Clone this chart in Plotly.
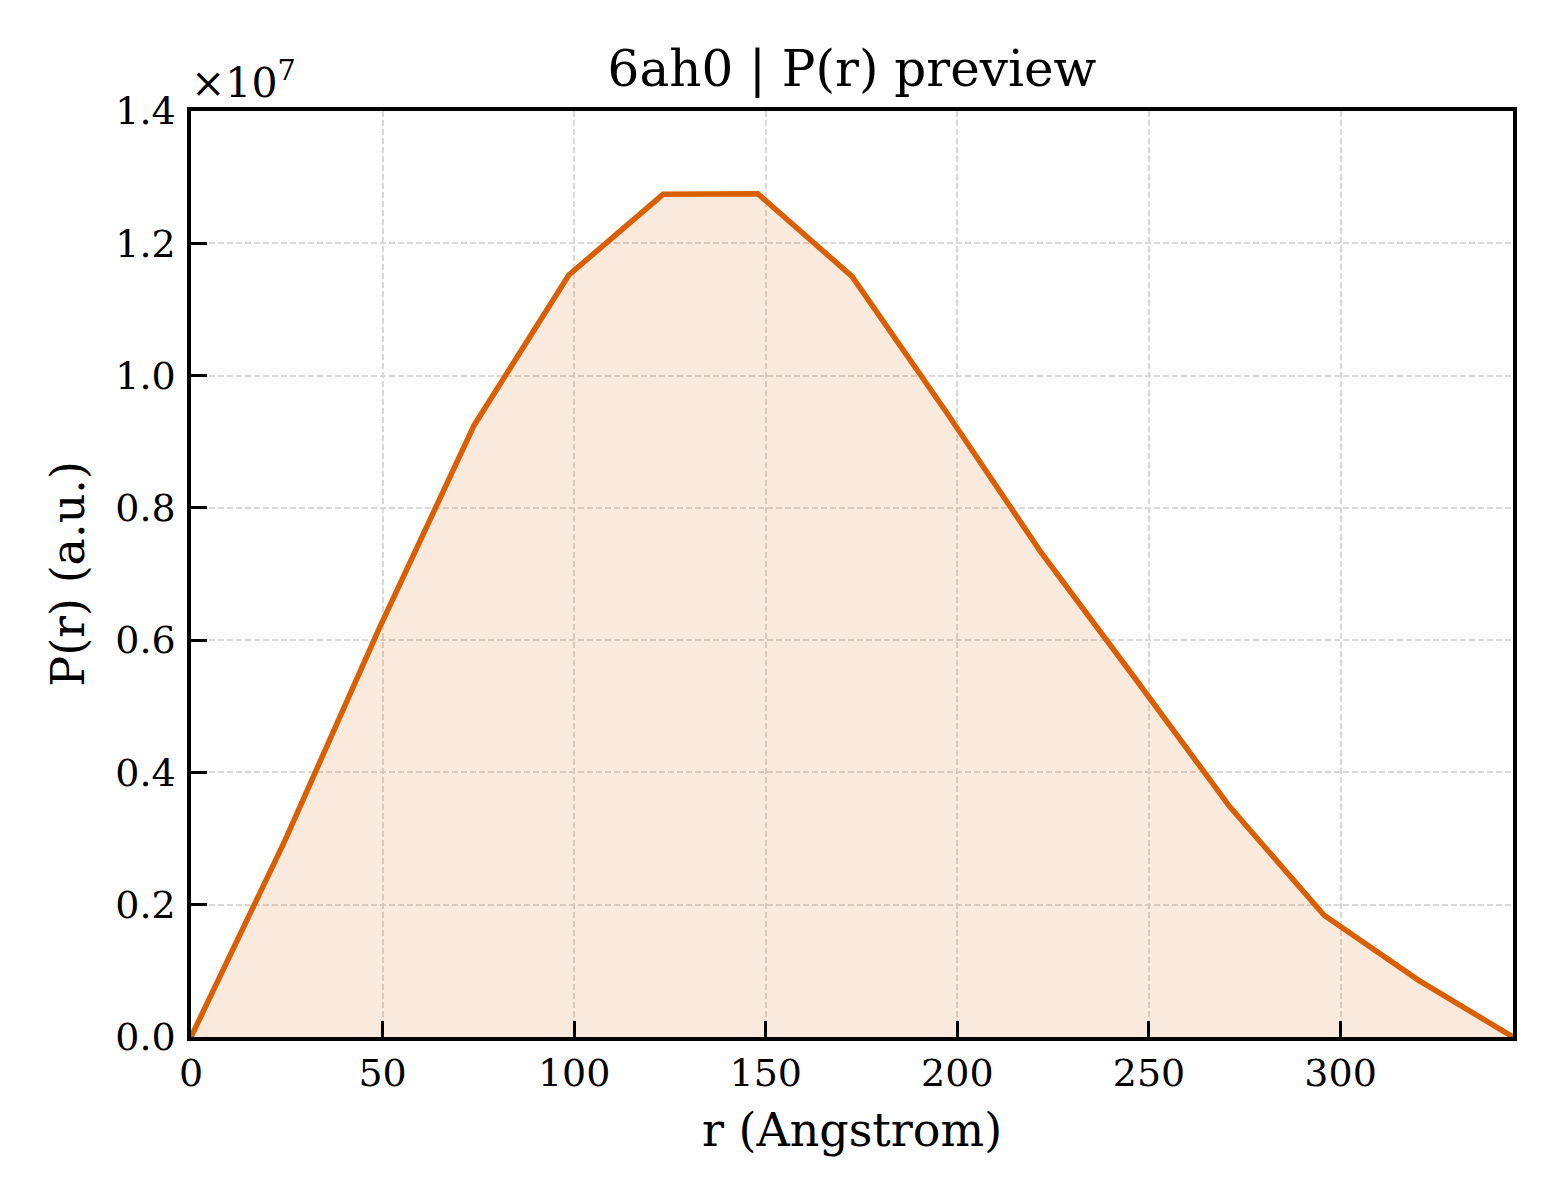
import plotly.graph_objects as go

# P(r) preview for 6ah0
r_angstrom = [0.0, 24.6, 49.3, 73.9, 98.6, 123.2, 147.9, 172.5, 197.1,
              221.8, 246.4, 271.1, 295.7, 320.3, 345.0]
p_r = [0, 2980000, 6200000, 9250000, 11520000, 12740000, 12750000, 11500000,
       9450000, 7330000, 5420000, 3480000, 1840000, 860000, 0]

x_ticks = [0, 50, 100, 150, 200, 250, 300]
y_ticks = [0, 2e6, 4e6, 6e6, 8e6, 1e7, 1.2e7, 1.4e7]
y_tick_labels = ["0.0", "0.2", "0.4", "0.6", "0.8", "1.0", "1.2", "1.4"]

line_color = "#d95f02"
font_family = "DejaVu Serif, Liberation Serif, serif"


def get_figure():
    fig = go.Figure()
    fig.add_trace(go.Scatter(
        x=r_angstrom, y=p_r,
        mode="lines",
        line=dict(color=line_color, width=5.5),
        fill="tozeroy",
        fillcolor="rgba(217,95,2,0.13)",
        showlegend=False,
    ))

    axis_common = dict(
        showline=True, linecolor="black", linewidth=3.5, mirror=True,
        ticks="inside", ticklen=16, tickwidth=3, tickcolor="black",
        showgrid=True, gridcolor="#d9d9d9", gridwidth=1.5, griddash="6px,3px",
        zeroline=False,
        tickfont=dict(family=font_family, size=38, color="black"),
    )

    fig.update_xaxes(
        range=[0, 345], tickvals=x_ticks,
        title=dict(text="r (Angstrom)", font=dict(family=font_family, size=46, color="black"), standoff=20),
        ticklabelstandoff=0,
        **axis_common
    )
    fig.update_yaxes(
        range=[0, 1.4e7], tickvals=y_ticks, ticktext=y_tick_labels,
        title=dict(text="P(r) (a.u.)", font=dict(family=font_family, size=46, color="black"), standoff=17),
        ticklabelstandoff=4,
        **axis_common
    )

    # page body adds an 8px offset, margins are shifted to compensate
    fig.update_layout(
        width=1560, height=1200,
        margin=dict(l=183, r=55, t=103, b=171),
        paper_bgcolor="white", plot_bgcolor="white",
        title=dict(text="6ah0 | P(r) preview", x=(183 + 1505) / 2 / 1560, xanchor="center",
                   y=1 - 60 / 1200, yanchor="middle",
                   font=dict(family=font_family, size=50, color="black")),
        font=dict(family=font_family, color="black"),
    )

    # matplotlib style offset text above the y axis
    fig.add_annotation(
        text="×10<sup>7</sup>", xref="paper", yref="paper",
        x=0.0, y=1.0, xanchor="left", yanchor="bottom", xshift=-2, yshift=2,
        showarrow=False, font=dict(family=font_family, size=41, color="black"),
    )
    return fig


if __name__ == "__main__":
    fig = get_figure()
    fig.write_html("out.html")
